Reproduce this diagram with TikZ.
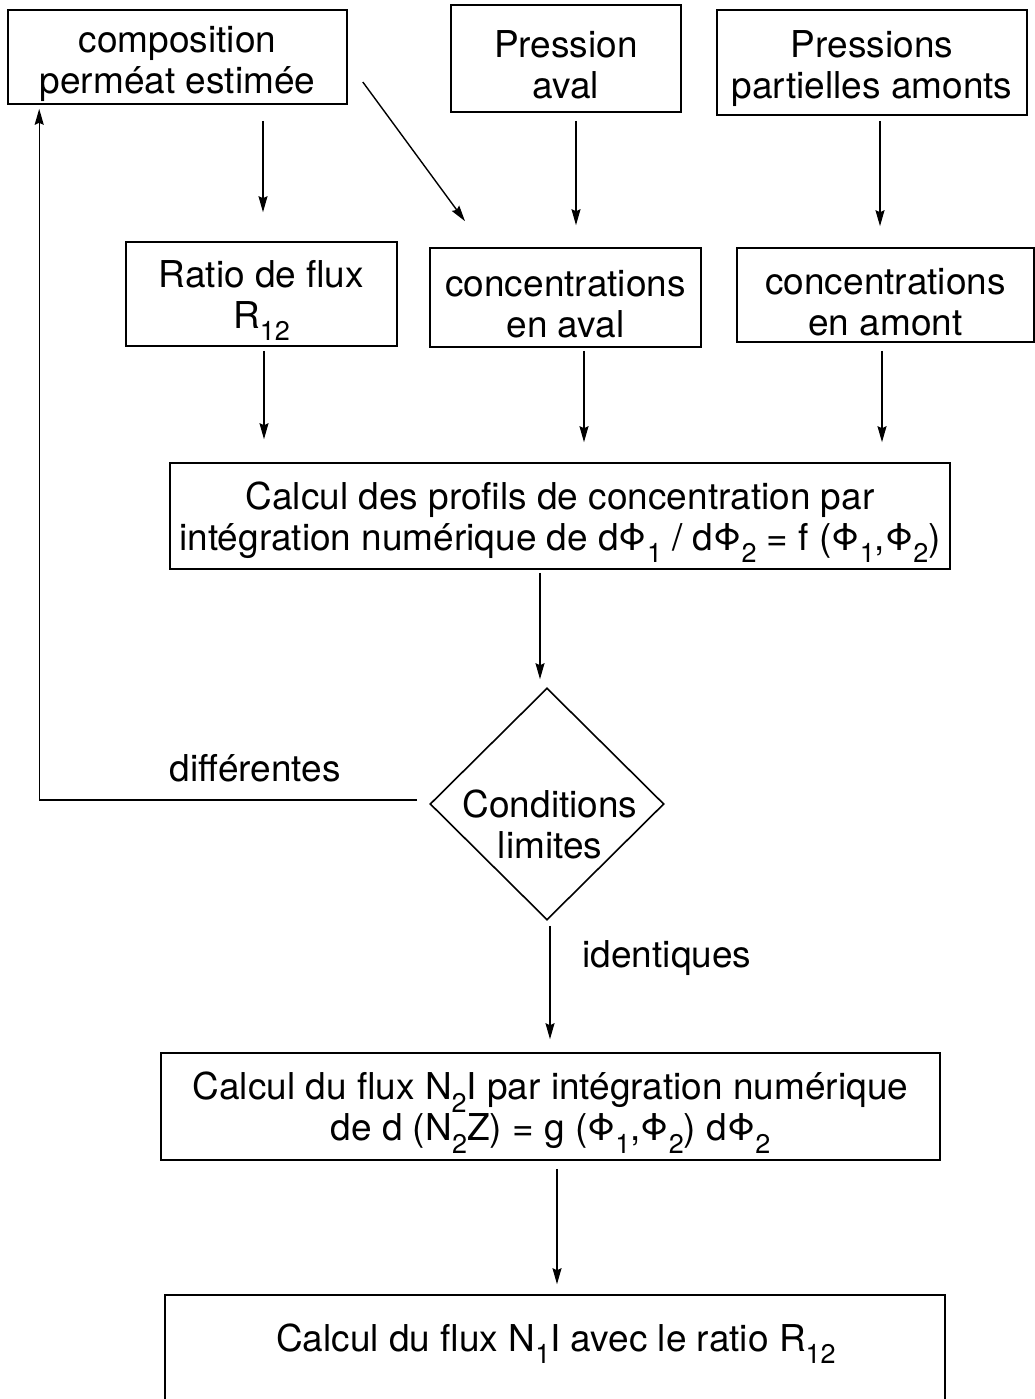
\documentclass[tikz,border=0pt]{standalone}
\usepackage{fontspec}
\setmainfont{TeX Gyre Heros}
\usetikzlibrary{shapes.geometric,arrows.meta,calc}
\newcommand{\sbs}[1]{\raisebox{-0.33em}{\fontsize{27}{27}\selectfont #1}}
\newcommand{\up}{\rule{0pt}{40pt}}
\begin{document}
\begin{tikzpicture}[x=1pt,y=-1pt,
  box/.style={draw,line width=1.6pt,align=center,inner sep=0pt,font=\fontsize{37}{41}\selectfont},
  arr/.style={-{Stealth[length=16pt,width=9pt,inset=2pt]},line width=1.4pt},
  lbl/.style={align=center,inner sep=0pt,font=\fontsize{37}{41}\selectfont}]
\useasboundingbox (0,0) rectangle (1035,1399);
% boxes
\node[box,minimum width=339pt,minimum height=94pt] (comp) at (177.5,57) {\up composition\\perméat estimée};
\node[box,minimum width=230pt,minimum height=107pt] (pav) at (566,58.5) {\up Pression\\aval};
\node[box,minimum width=310pt,minimum height=105pt] (pam) at (872,62.5) {\up Pressions\\partielles amonts};
\node[box,minimum width=271pt,minimum height=104pt] (ratio) at (261.5,294) {\up Ratio de flux\\R\sbs{12}};
\node[box,minimum width=271pt,minimum height=99pt] (cav) at (565.5,297.5) {\up concentrations\\en aval};
\node[box,minimum width=297pt,minimum height=94pt] (cam) at (885.5,295) {\up concentrations\\en amont};
\node[box,minimum width=780pt,minimum height=106pt] (calc) at (560,516) {\up Calcul des profils de concentration par\\intégration numérique de dΦ\sbs{1} / dΦ\sbs{2} = f (Φ\sbs{1},Φ\sbs{2})};
\node[diamond,draw,line width=1.6pt,minimum width=234pt,minimum height=232pt,inner sep=0pt] (cond) at (547,804) {};
\node[lbl] (condtxt) at ([shift={(3,20)}]cond.center) {Conditions\\limites};
\node[box,minimum width=779pt,minimum height=107pt] (n2) at (550.5,1106.5) {\up Calcul du flux N\sbs{2}I par intégration numérique\\de d (N\sbs{2}Z) = g (Φ\sbs{1},Φ\sbs{2}) dΦ\sbs{2}};
\node[draw,line width=1.6pt,minimum width=780pt,minimum height=130pt,inner sep=0pt] (bot) at (555,1360) {};
\node[lbl] (bottxt) at (556,1344) {Calcul du flux N\sbs{1}I avec le ratio R\sbs{12}};
% labels
\node[lbl] (ldiff) at (255,768) {différentes};
\node[lbl] (lident) at (667,958) {identiques};
% arrows
\draw[arr] ([shift={(85.5,16)}]comp.south) -- ([shift={(1.5,-29)}]ratio.north);
\draw[arr] ([shift={(15,25)}]comp.east) -- ([shift={(-100.5,-26)}]cav.north);
\draw[arr] ([shift={(10,8)}]pav.south) -- ([shift={(10.5,-22)}]cav.north);
\draw[arr] ([shift={(8,5)}]pam.south) -- ([shift={(-5.5,-21)}]cam.north);
\draw[arr] ([shift={(2.5,4)}]ratio.south) -- ([shift={(-296,-23)}]calc.north);
\draw[arr] ([shift={(18.5,3)}]cav.south) -- ([shift={(24,-20)}]calc.north);
\draw[arr] ([shift={(-3.5,8)}]cam.south) -- ([shift={(322,-20)}]calc.north);
\draw[arr] ([shift={(-20,3)}]calc.south) -- ([shift={(-7,-8)}]cond.north);
\draw[arr] ([shift={(-12,-4)}]cond.west) -| ([shift={(32,4)}]comp.south west);
\draw[arr] ([shift={(3,5)}]cond.south) -- ([shift={(-0.5,-13)}]n2.north);
\draw[arr] ([shift={(6.5,8)}]n2.south) -- ([shift={(2,-10)}]bot.north);
\end{tikzpicture}
\end{document}
